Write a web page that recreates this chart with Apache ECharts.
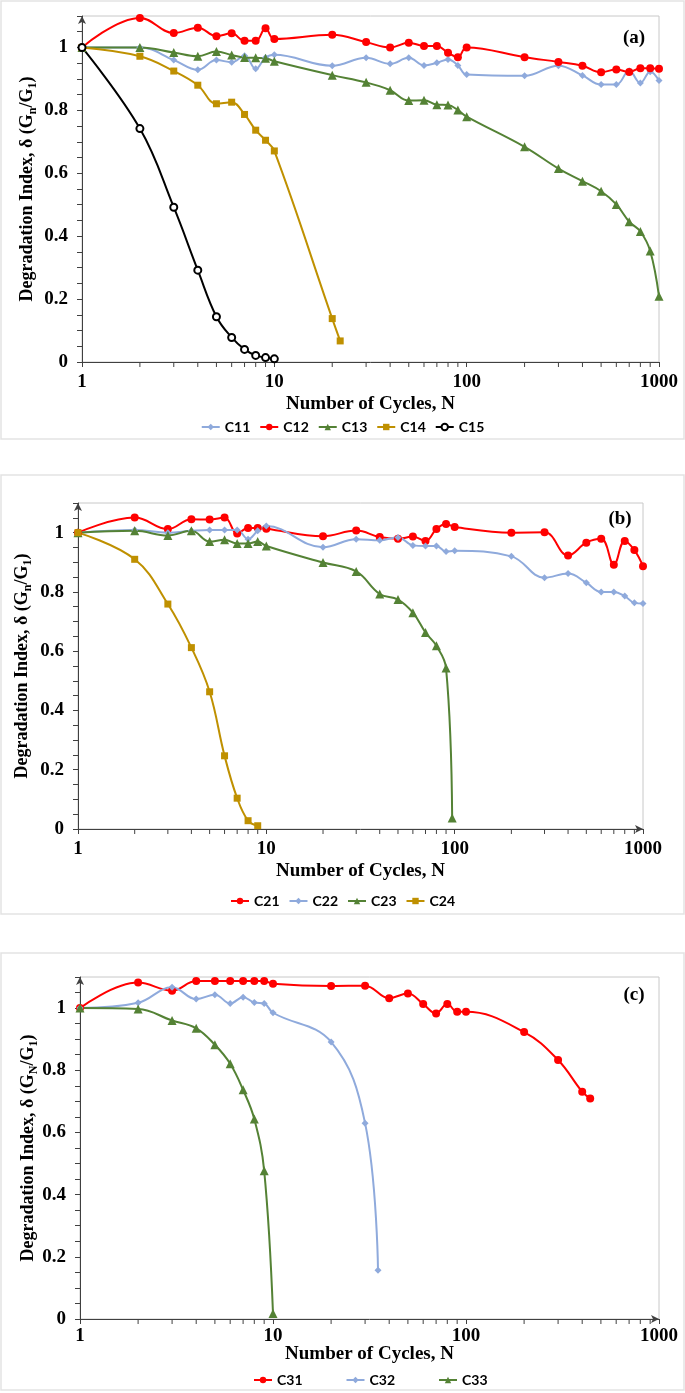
<!DOCTYPE html>
<html><head><meta charset="utf-8">
<script src="https://cdn.jsdelivr.net/npm/echarts@6/dist/echarts.min.js"></script>
<style>html,body{margin:0;padding:0;background:#fff}#c{width:685px;height:1393px}</style>
</head><body><div id="c"></div>
<script>
// ---------- Data ----------
const N_FULL = [1,2,3,4,5,6,7,8,9,10,20,30,40,50,60,70,80,90,100,200,300,400,500,600,700,800,900,1000];
const N_C14 = [1,2,3,4,5,6,7,8,9,10,20,22];
const N_C15 = [1,2,3,4,5,6,7,8,9,10];
const C11 = [1.0,1.0,0.960,0.929,0.960,0.953,0.974,0.932,0.968,0.977,0.942,0.967,0.948,0.967,0.943,0.951,0.962,0.943,0.914,0.910,0.942,0.911,0.882,0.882,0.926,0.887,0.923,0.895];
const C12 = [1.0,1.094,1.046,1.063,1.036,1.045,1.021,1.021,1.061,1.027,1.040,1.017,1.0,1.015,1.005,1.005,0.983,0.969,1.0,0.969,0.954,0.942,0.921,0.930,0.922,0.934,0.934,0.932];
const C13 = [1.0,1.0,0.984,0.972,0.987,0.976,0.968,0.967,0.966,0.956,0.912,0.889,0.864,0.831,0.832,0.818,0.817,0.801,0.780,0.684,0.615,0.575,0.543,0.501,0.446,0.415,0.353,0.209];
const C14 = [1.0,0.972,0.925,0.880,0.821,0.826,0.787,0.737,0.705,0.671,0.138,0.067];
const C15 = [1.0,0.742,0.492,0.292,0.144,0.078,0.040,0.021,0.014,0.010];

const N_C23 = [1,2,3,4,5,6,7,8,9,10,20,30,40,50,60,70,80,90,97];
const N_C24 = [1,2,3,4,5,6,7,8,9];
const C21 = [1.0,1.051,1.012,1.045,1.044,1.051,0.997,1.016,1.016,1.013,0.988,1.007,0.985,0.979,0.987,0.972,1.012,1.029,1.019,1.0,1.001,0.923,0.966,0.979,0.892,0.972,0.941,0.887];
const C22 = [1.0,1.009,1.0,1.006,1.009,1.009,1.009,0.978,1.006,1.022,0.951,0.978,0.974,0.984,0.957,0.955,0.955,0.936,0.939,0.920,0.848,0.862,0.831,0.800,0.800,0.786,0.763,0.761];
const C23 = [1.0,1.006,0.990,1.006,0.970,0.976,0.963,0.963,0.970,0.955,0.899,0.869,0.793,0.774,0.730,0.663,0.618,0.543,0.037];
const C24 = [1.0,0.910,0.759,0.612,0.463,0.247,0.104,0.028,0.011];

const N_C31 = [1,2,3,4,5,6,7,8,9,10,20,30,40,50,60,70,80,90,100,200,300,400,440];
const N_C32 = [1,2,3,4,5,6,7,8,9,10,20,30,35];
const N_C33 = [1,2,3,4,5,6,7,8,9,10];
const C31 = [1.0,1.082,1.056,1.087,1.087,1.087,1.087,1.087,1.087,1.078,1.071,1.072,1.032,1.047,1.013,0.983,1.013,0.988,0.988,0.923,0.833,0.731,0.709];
const C32 = [1.0,1.017,1.067,1.029,1.043,1.015,1.035,1.018,1.015,0.985,0.891,0.630,0.157];
const C33 = [1.0,0.997,0.960,0.935,0.882,0.821,0.737,0.643,0.477,0.018];

const X_MINOR_TICKS = [2,3,4,5,6,7,8,9,20,30,40,50,60,70,80,90,200,300,400,500,600,700,800,900];
const PANEL_LABELS = ['(a)','(b)','(c)'];
const X_TITLE = 'Number of Cycles, N';

// ---------- Styles ----------
const SERIF = '"Liberation Serif","Times New Roman",serif';
const SANS = 'Lato,"Liberation Sans",sans-serif';
const AX = '#404040';
const COL = {blue:'#8FAADC', red:'#FF0000', green:'#548235', gold:'#BF9000', black:'#000000'};
const FS = 19;

const grids = [
  {left:82, top:16, width:577, height:346},
  {left:78, top:503, width:565, height:326},
  {left:80, top:977, width:579, height:342}
];
const xNameGap = [33, 33, 26];
const yNameGap = [43, 44, 40];
const labelMargin = [11, 11, 8];
const xArrow = [false, true, true];
const ySub = ['n','n','N'];

const xAxes = grids.map((g,i)=>({
  type:'log', logBase:10, min:1, max:1000, gridIndex:i,
  splitLine:{show:false}, minorTick:{show:false},
  axisLine:{show:true, lineStyle:{color:AX, width:1}, symbol: xArrow[i]?['none','arrow']:['none','none'], symbolSize:[6,8]},
  axisTick:{show:true, inside:false, length:5, lineStyle:{color:AX}},
  axisLabel:{formatter:v=>String(Math.round(v)), margin:labelMargin[i], fontFamily:SERIF, fontWeight:'bold', fontSize:FS, color:'#000'},
  name:X_TITLE, nameLocation:'middle', nameGap:xNameGap[i], nameMoveOverlap:false,
  nameTextStyle:{fontFamily:SERIF, fontWeight:'bold', fontSize:FS, color:'#000'}
}));

const yAxes = grids.map((g,i)=>({
  type:'value', min:0, max:1.1, interval:0.05, gridIndex:i,
  splitLine:{show:false},
  axisLine:{show:true, onZero:false, lineStyle:{color:AX, width:1}, symbol:['none','arrow'], symbolSize:[6,8]},
  axisTick:{show:true, inside:false, length:5, lineStyle:{color:AX}},
  axisLabel:{formatter:v=>{const k=Math.round(v*100); return (k%20===0)?String(k/100):'';}, margin:14,
    fontFamily:SERIF, fontWeight:'bold', fontSize:FS, color:'#000'},
  name:'{t|Degradation Index, δ (G}{s|'+ySub[i]+'}{t|/G}{s|1}{t|)}',
  nameLocation:'middle', nameGap:yNameGap[i], nameMoveOverlap:false,
  nameTextStyle:{rich:{
    t:{fontFamily:SERIF, fontWeight:'bold', fontSize:18, color:'#000', lineHeight:24},
    s:{fontFamily:SERIF, fontWeight:'bold', fontSize:12, color:'#000', lineHeight:14, verticalAlign:'bottom'}
  }}
}));

function lineSeries(name, N, vals, gi, color, symbol, size, extra){
  return Object.assign({
    name, type:'line', xAxisIndex:gi, yAxisIndex:gi,
    data:N.map((n,k)=>[n, vals[k]]),
    smooth:0.4, symbol, symbolSize:size, showSymbol:true,
    lineStyle:{color, width:2}, itemStyle:{color},
    emphasis:{disabled:true}, animation:false
  }, extra||{});
}

function minorTickSeries(gi){
  return {
    type:'custom', xAxisIndex:gi, yAxisIndex:gi, silent:true, clip:false, animation:false,
    data:X_MINOR_TICKS.map(v=>[v,0]),
    renderItem:(params, api)=>{
      const p = api.coord([api.value(0), api.value(1)]);
      return {type:'line', shape:{x1:p[0], y1:p[1], x2:p[0], y2:p[1]+5}, style:{stroke:AX, lineWidth:1}};
    }
  };
}

const series = [
  lineSeries('C11', N_FULL, C11, 0, COL.blue, 'diamond', 7),
  lineSeries('C12', N_FULL, C12, 0, COL.red, 'circle', 8),
  lineSeries('C13', N_FULL, C13, 0, COL.green, 'triangle', 9),
  lineSeries('C14', N_C14, C14, 0, COL.gold, 'rect', 7),
  lineSeries('C15', N_C15, C15, 0, COL.black, 'emptyCircle', 7, {itemStyle:{color:'#000', borderColor:'#000', borderWidth:1.8}}),
  lineSeries('C21', N_FULL, C21, 1, COL.red, 'circle', 8),
  lineSeries('C22', N_FULL, C22, 1, COL.blue, 'diamond', 7),
  lineSeries('C23', N_C23, C23, 1, COL.green, 'triangle', 9),
  lineSeries('C24', N_C24, C24, 1, COL.gold, 'rect', 7),
  lineSeries('C31', N_C31, C31, 2, COL.red, 'circle', 8),
  lineSeries('C32', N_C32, C32, 2, COL.blue, 'diamond', 7),
  lineSeries('C33', N_C33, C33, 2, COL.green, 'triangle', 9),
  minorTickSeries(0), minorTickSeries(1), minorTickSeries(2)
];

const legendText = {fontFamily:SANS, fontWeight:'bold', fontSize:14, color:'#000'};
const legends = [
  {data:['C11','C12','C13','C14','C15'], top:415, left:'center', itemWidth:18, itemHeight:8, itemGap:9, textStyle:legendText, selectedMode:false},
  {data:['C21','C22','C23','C24'], top:889, left:'center', itemWidth:18, itemHeight:8, itemGap:9, textStyle:legendText, selectedMode:false},
  {data:['C31','C32','C33'], top:1368, left:248, itemWidth:18, itemHeight:8, itemGap:43, textStyle:legendText, selectedMode:false}
];

const panelBoxes = [[1,1,683,438],[1,475,683,439],[1,953,683,437]];
const labelPos = [[634,38],[620,519],[634,995]];
const graphic = [];
panelBoxes.forEach(b=>graphic.push({type:'rect', shape:{x:b[0], y:b[1], width:b[2], height:b[3]}, style:{fill:null, stroke:'#e3e3e3', lineWidth:1.5}, silent:true, z:-1}));
labelPos.forEach((p,i)=>graphic.push({type:'text', x:p[0], y:p[1], style:{text:PANEL_LABELS[i], fontFamily:SERIF, fontWeight:'bold', fontSize:FS, fill:'#000', align:'center', verticalAlign:'middle'}, silent:true}));

const chart = echarts.init(document.getElementById('c'), null, {renderer:'canvas'});
chart.setOption({
  backgroundColor:'#ffffff', animation:false,
  grid: grids.map(g=>Object.assign({show:true, borderColor:'#c8c8c8', borderWidth:1, backgroundColor:'transparent'}, g)),
  xAxis:xAxes, yAxis:yAxes, legend:legends, series, graphic
});
</script></body></html>
